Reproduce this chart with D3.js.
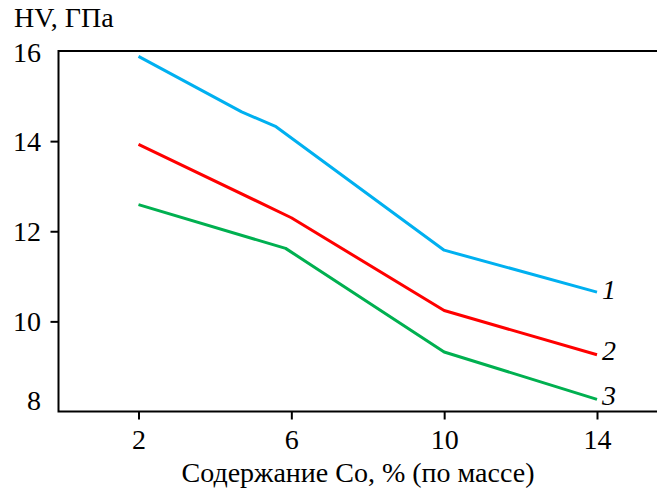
<!DOCTYPE html>
<html>
<head>
<meta charset="utf-8">
<script src="https://cdn.jsdelivr.net/npm/d3@7"></script>
</head>
<body style="margin:0;background:#fff">
<svg id="chart" width="657" height="488" font-family="Times New Roman, Liberation Serif, serif"></svg>
<script>
// Co content, % (mass) and hardness HV, GPa for three alloys
const xTicks = [2, 6, 10, 14];
const yTicks = [8, 10, 12, 14, 16];

const co1 = [2, 4.7, 5.6, 10, 14];
const hv1 = [15.88, 14.65, 14.32, 11.58, 10.65];

const co2 = [2, 6, 10, 14];
const hv2 = [13.93, 12.3, 10.24, 9.26];

const co3 = [2, 5.85, 10, 14];
const hv3 = [12.59, 11.62, 9.32, 8.27];

const seriesNames = ["1", "2", "3"];
const seriesColors = ["#00b0f0", "#ff0000", "#00b050"];

const LEFT = 58.5, TOP = 51, BOTTOM = 411.5, RIGHT = 657;
const FONT = 28;
const SERIF = 'Times New Roman, Liberation Serif, serif';

const svg = d3.select('#chart');

const xScale = d3.scaleLinear().domain([2, 14]).range([138.5, 597]);
const yScale = d3.scaleLinear().domain([8, 16]).range([BOTTOM, TOP]);

// frame: left, top and bottom lines only
svg.append('path')
  .attr('d', `M${RIGHT},${TOP}H${LEFT}V${BOTTOM}H${RIGHT}`)
  .attr('fill', 'none')
  .attr('stroke', '#000')
  .attr('stroke-width', 2);

// x axis ticks and labels
let xAxis = d3.axisBottom(xScale).tickValues(xTicks).tickSize(8).tickSizeOuter(0).tickPadding(10);
svg.append('g')
  .attr('transform', `translate(0,${BOTTOM})`)
  .call(xAxis)
  .call(g => g.select('.domain').remove())
  .call(g => g.selectAll('line').attr('stroke', '#000').attr('stroke-width', 2))
  .call(g => g.attr('font-family', SERIF).attr('font-size', FONT))
  .selectAll('text')
  .attr('fill', '#000');

// y axis: no tick marks at the corners
let yAxis = d3.axisLeft(yScale).tickValues(yTicks).tickSize(8).tickSizeOuter(0).tickPadding(10);
svg.append('g')
  .attr('transform', `translate(${LEFT},0)`)
  .call(yAxis)
  .call(g => g.select('.domain').remove())
  .call(g => g.attr('font-family', SERIF).attr('font-size', FONT))
  .call(g => g.selectAll('.tick line')
    .attr('stroke', '#000').attr('stroke-width', 2)
    .attr('display', d => (d === 8 || d === 16) ? 'none' : null))
  .call(g => g.selectAll('.tick text').attr('x', -17.5).attr('fill', '#000'))
  .call(g => g.selectAll('.tick').filter(d => d === 8).select('text').attr('y', -11))
  .call(g => g.selectAll('.tick').filter(d => d === 16).select('text').attr('y', 1.5));

// lines
const lineGen = d3.line()
  .x(d => xScale(d[0]))
  .y(d => yScale(d[1]));

const series = [d3.zip(co1, hv1), d3.zip(co2, hv2), d3.zip(co3, hv3)];
series.forEach((pts, i) => {
  svg.append('path')
    .datum(pts)
    .attr('d', lineGen)
    .attr('fill', 'none')
    .attr('stroke', seriesColors[i])
    .attr('stroke-width', 3)
    .attr('stroke-linejoin', 'round');
});

// curve numbers at the line ends
const labelShift = [7, 5, 6];
series.forEach((pts, i) => {
  let last = pts[pts.length - 1];
  svg.append('text')
    .attr('x', xScale(last[0]) + 5)
    .attr('y', yScale(last[1]) + labelShift[i])
    .attr('font-family', SERIF)
    .attr('font-size', FONT)
    .attr('font-style', 'italic')
    .text(seriesNames[i]);
});

// axis titles
svg.append('text')
  .attr('x', 14)
  .attr('y', 27)
  .attr('font-family', SERIF)
  .attr('font-size', FONT)
  .text('HV, ГПа');

svg.append('text')
  .attr('x', 358)
  .attr('y', 482)
  .attr('text-anchor', 'middle')
  .attr('font-family', SERIF)
  .attr('font-size', FONT)
  .text('Содержание Co, % (по массе)');
</script>
</body>
</html>
